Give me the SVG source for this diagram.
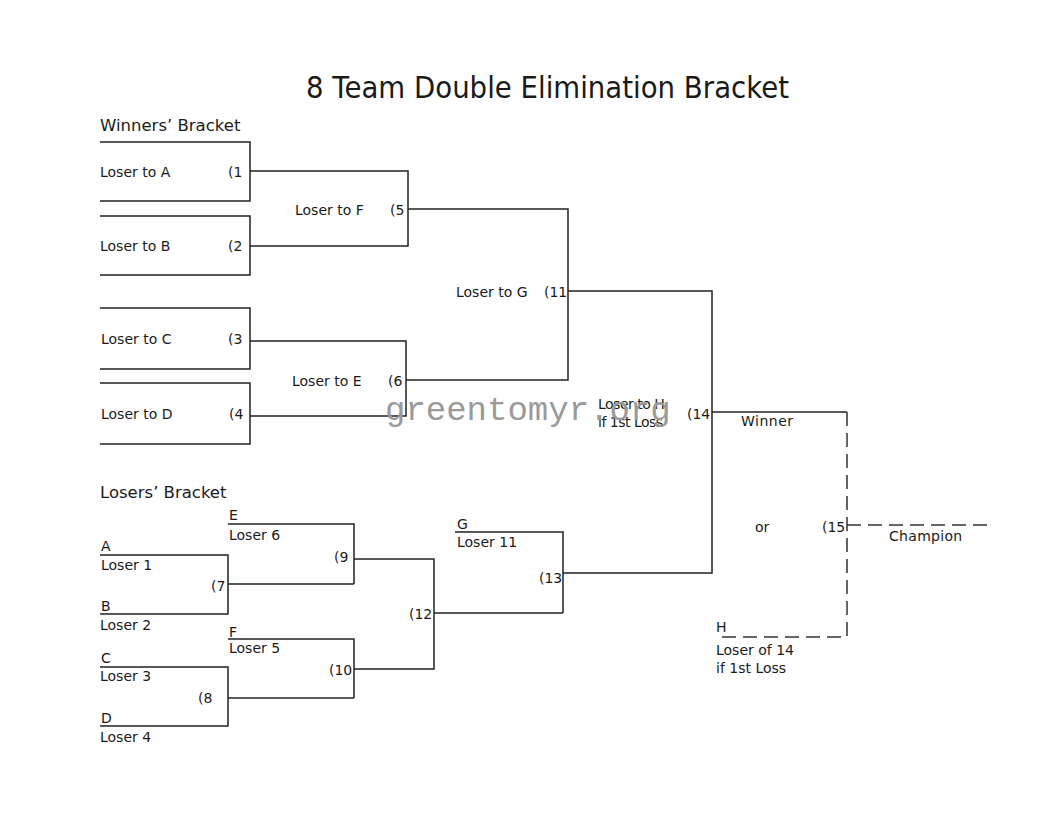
<svg xmlns="http://www.w3.org/2000/svg" width="1056" height="816" viewBox="0 0 1056 816">
<style>
  text { font-family: "DejaVu Sans", "Liberation Sans", sans-serif; fill: #1a1a1a; font-size: 14px; }
  .title { font-size: 30px; }
  .head { font-size: 16.5px; }
  .ln { fill: none; stroke: #222; stroke-width: 1.5; }
  .dash { fill: none; stroke: #333; stroke-width: 1.5; stroke-dasharray: 14 7; }
  .wm { font-family: "Liberation Mono", "DejaVu Sans Mono", monospace; font-size: 34px; fill: #9a9a9a; }
</style>
<rect width="1056" height="816" fill="#fff"/>
<text class="title" x="306" y="98" textLength="483" lengthAdjust="spacingAndGlyphs">8 Team Double Elimination Bracket</text>
<text class="head" x="100" y="131">Winners’ Bracket</text>
<text class="head" x="100" y="498">Losers’ Bracket</text>

<g id="connectors">
  <path class="ln" d="M250 171H408V246H250"/>
  <path class="ln" d="M250 341H406V416H250"/>
  <path class="ln" d="M408 209H568V380H406"/>
  <path class="ln" d="M568 291H712V573H563"/>
  <path class="ln" d="M712 412H847"/>
  <path class="dash" d="M847 412V637H716"/>
  <path class="dash" d="M847 525H990"/>
  <path class="ln" d="M228 584H354"/>
  <path class="ln" d="M228 698H354"/>
  <path class="ln" d="M354 559H434V669H354"/>
  <path class="ln" d="M434 613H563"/>
</g>

<g id="w1"><path class="ln" d="M100 142H250V201H100"/><text x="100" y="177">Loser to A</text><text x="228" y="177">(1</text></g>
<g id="w2"><path class="ln" d="M100 216H250V275H100"/><text x="100" y="251">Loser to B</text><text x="228" y="251">(2</text></g>
<g id="w3"><path class="ln" d="M100 308H250V369H100"/><text x="101" y="344">Loser to C</text><text x="228" y="344">(3</text></g>
<g id="w4"><path class="ln" d="M100 383H250V444H100"/><text x="101" y="419">Loser to D</text><text x="229" y="419">(4</text></g>
<g id="w5"><text x="295" y="215">Loser to F</text><text x="390" y="215">(5</text></g>
<g id="w6"><text x="292" y="386">Loser to E</text><text x="388" y="386">(6</text></g>
<g id="w11"><text x="456" y="297">Loser to G</text><text x="544" y="297">(11</text></g>
<g id="w14"><text x="598" y="409" letter-spacing="-0.5">Loser to H</text><text x="598" y="427" letter-spacing="-0.5">if 1st Loss</text><text x="687" y="419">(14</text><text x="741" y="426" letter-spacing="0.5">Winner</text></g>
<g id="f15"><text x="755" y="532">or</text><text x="822" y="532">(15</text><text x="889" y="541" letter-spacing="0.3">Champion</text></g>
<g id="h"><text x="716" y="632">H</text><text x="716" y="655">Loser of 14</text><text x="716" y="673">if 1st Loss</text></g>

<g id="l7"><path class="ln" d="M100 555H228V614H100"/><text x="101" y="551">A</text><text x="101" y="570">Loser 1</text><text x="101" y="611">B</text><text x="100" y="630">Loser 2</text><text x="211" y="591">(7</text></g>
<g id="l8"><path class="ln" d="M100 667H228V726H100"/><text x="101" y="663">C</text><text x="100" y="681">Loser 3</text><text x="101" y="723">D</text><text x="100" y="742">Loser 4</text><text x="198" y="703">(8</text></g>
<g id="l9"><path class="ln" d="M228 524H354V584"/><text x="229" y="520">E</text><text x="229" y="540">Loser 6</text><text x="334" y="562">(9</text></g>
<g id="l10"><path class="ln" d="M228 639H354V698"/><text x="229" y="637">F</text><text x="229" y="653">Loser 5</text><text x="329" y="675">(10</text></g>
<g id="l12"><text x="409" y="619">(12</text></g>
<g id="l13"><path class="ln" d="M455 532H563V613"/><text x="457" y="529">G</text><text x="457" y="547">Loser 11</text><text x="539" y="583">(13</text></g>

<text class="wm" x="385" y="420">greentomyr.org</text>
</svg>
